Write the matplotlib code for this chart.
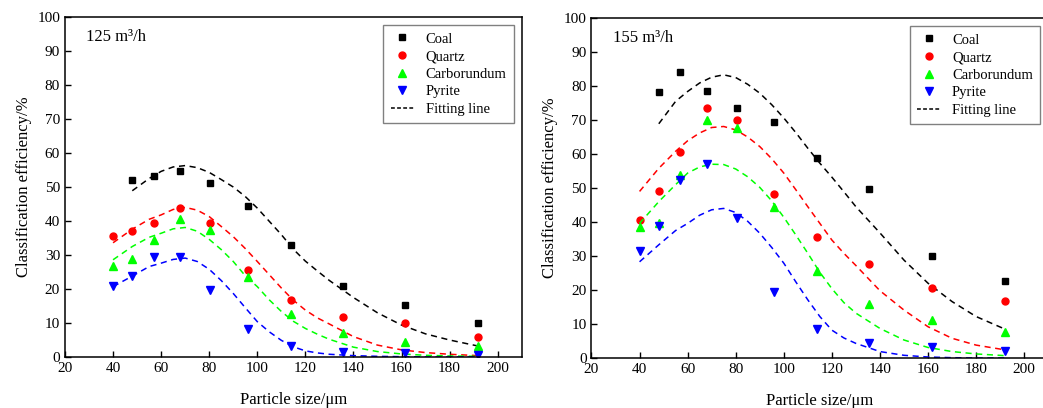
import numpy as np
import matplotlib
matplotlib.use("Agg")
import matplotlib.pyplot as plt
from matplotlib.lines import Line2D

plt.rcParams['font.family'] = ['Liberation Serif', 'DejaVu Serif']
plt.rcParams['font.size'] = 11

# particle sizes of the measured points (um)
size = [40, 48, 57, 68, 80.5, 96, 114, 135.5, 161.5, 192]

# 125 m3/h, measured efficiency (%)
coal_125 = [np.nan, 52.1, 53.1, 54.6, 51.2, 44.4, 33.0, 20.8, 15.2, 9.9]
quartz_125 = [35.6, 37.1, 39.5, 43.7, 39.3, 25.6, 16.9, 11.7, 10.0, 5.9]
carbo_125 = [26.9, 28.9, 34.5, 40.7, 37.3, 23.5, 12.6, 7.0, 4.4, 3.1]
pyrite_125 = [21.0, 23.7, 29.3, 29.5, 19.6, 8.2, 3.1, 1.6, 1.2, 0.6]

# 155 m3/h, measured efficiency (%)
coal_155 = [np.nan, 78.3, 84.0, 78.5, 73.4, 69.3, 58.8, 49.7, 30.1, 22.7]
quartz_155 = [40.7, 49.0, 60.6, 73.4, 70.0, 48.1, 35.5, 27.6, 20.5, 16.8]
carbo_155 = [38.4, 39.8, 53.9, 69.9, 67.6, 44.4, 25.6, 15.8, 11.2, 7.8]
pyrite_155 = [31.6, 38.9, 52.4, 57.1, 41.1, 19.3, 8.4, 4.3, 3.2, 2.1]

# fitting lines
fit_x = [40, 48, 55, 60, 65, 70, 75, 80, 85, 90, 95, 100, 105, 110, 115, 120,
         125, 130, 140, 150, 160, 170, 180, 192]

coal_fit_125 = [np.nan, 48.9, 52.5, 54.6, 55.9, 56.3, 55.7, 54.3, 52.2, 50.0, 47.2, 43.8,
                39.9, 36.0, 31.7, 28.2, 25.3, 22.5, 17.5, 13.0, 9.4, 6.8, 5.0, 3.2]
quartz_fit_125 = [33.6, 37.6, 40.5, 41.8, 43.4, 44.0, 43.2, 41.3, 38.4, 35.4, 31.9, 28.1,
                  24.2, 20.3, 16.7, 13.8, 11.5, 9.7, 6.0, 3.5, 2.1, 1.3, 0.8, 0.4]
carbo_fit_125 = [28.6, 32.5, 35.2, 36.4, 37.7, 38.1, 37.0, 34.6, 31.6, 28.1, 23.9, 20.7,
                 16.8, 13.4, 10.5, 8.4, 6.7, 5.2, 2.9, 1.6, 0.9, 0.5, 0.3, 0.2]
pyrite_fit_125 = [20.7, 23.8, 26.6, 27.6, 28.7, 29.1, 28.1, 25.8, 22.5, 18.7, 14.5, 10.4,
                  7.4, 4.9, 3.0, 1.8, 1.2, 0.8, 0.4, 0.2, 0.1, 0.0, 0.0, 0.0]

coal_fit_155 = [np.nan, 68.9, 75.5, 78.4, 80.9, 82.6, 83.3, 82.5, 80.5, 77.9, 74.5, 70.6,
                66.3, 61.7, 57.3, 53.2, 48.9, 44.5, 36.8, 28.8, 22.0, 16.6, 12.2, 8.5]
quartz_fit_155 = [49.0, 55.8, 60.8, 63.9, 66.2, 67.8, 68.1, 67.1, 65.0, 62.2, 58.6, 54.4,
                  49.5, 44.5, 39.6, 34.7, 30.8, 27.2, 19.8, 14.1, 9.2, 5.8, 3.8, 2.4]
carbo_fit_155 = [39.6, 46.0, 51.0, 54.4, 56.2, 57.0, 56.9, 55.6, 53.3, 50.2, 46.2, 41.4,
                 36.2, 30.8, 25.2, 20.4, 16.3, 13.2, 8.7, 5.3, 3.1, 1.9, 1.2, 0.7]
pyrite_fit_155 = [28.3, 33.3, 37.5, 39.6, 42.0, 43.6, 44.0, 42.8, 40.2, 36.7, 32.5, 27.9,
                  22.4, 17.1, 12.2, 8.2, 5.9, 4.3, 1.9, 0.8, 0.3, 0.1, 0.0, 0.0]

names = ['Coal', 'Quartz', 'Carborundum', 'Pyrite']
colors = ['black', 'red', '#00ff00', 'blue']
markers = ['s', 'o', '^', 'v']
msizes = [4.5, 5, 6, 6]

panels = [
    ('125 m³/h', [coal_125, quartz_125, carbo_125, pyrite_125],
     [coal_fit_125, quartz_fit_125, carbo_fit_125, pyrite_fit_125]),
    ('155 m³/h', [coal_155, quartz_155, carbo_155, pyrite_155],
     [coal_fit_155, quartz_fit_155, carbo_fit_155, pyrite_fit_155]),
]
positions = [[0.0623, 0.125, 0.4379, 0.8333], [0.5671, 0.1225, 0.4379, 0.8333]]

fig = plt.figure(figsize=(10.43, 4.08), dpi=100)

for (title, meas, fits), pos in zip(panels, positions):
    ax = fig.add_axes(pos)
    for i in range(4):
        ax.plot(fit_x, fits[i], color=colors[i], lw=1.1, linestyle=(0, (4, 3)))
        ax.plot(size, meas[i], linestyle='none', marker=markers[i],
                color=colors[i], ms=msizes[i])
    ax.set_xlim(20, 210)
    ax.set_ylim(0, 100)
    ax.set_xticks(np.arange(20, 201, 20))
    ax.set_yticks(np.arange(0, 101, 10))
    ax.tick_params(direction='in', length=4.5, width=1, labelsize=11)
    for s in ax.spines.values():
        s.set_linewidth(1.1)
    ax.set_xlabel('Particle size/μm', fontsize=12, labelpad=12)
    ax.set_ylabel('Classification efficiency/%', fontsize=12, labelpad=4)
    ax.text(0.047, 0.94, title, transform=ax.transAxes, fontsize=12,
            va='center', ha='left')

    handles = [Line2D([], [], linestyle='none', marker=markers[i], color=colors[i],
                      ms=msizes[i]) for i in range(4)]
    handles.append(Line2D([], [], color='black', lw=1.1, linestyle=(0, (2.5, 1.5))))
    leg = ax.legend(handles, names + ['Fitting line'], loc='upper right',
                    fontsize=10.5, frameon=True, fancybox=False, framealpha=1,
                    edgecolor='#808080', handlelength=1.6, handletextpad=0.8,
                    labelspacing=0.3, borderaxespad=0.55, borderpad=0.5)
    leg.get_frame().set_linewidth(1.0)

fig.savefig('out.png', dpi=100)
